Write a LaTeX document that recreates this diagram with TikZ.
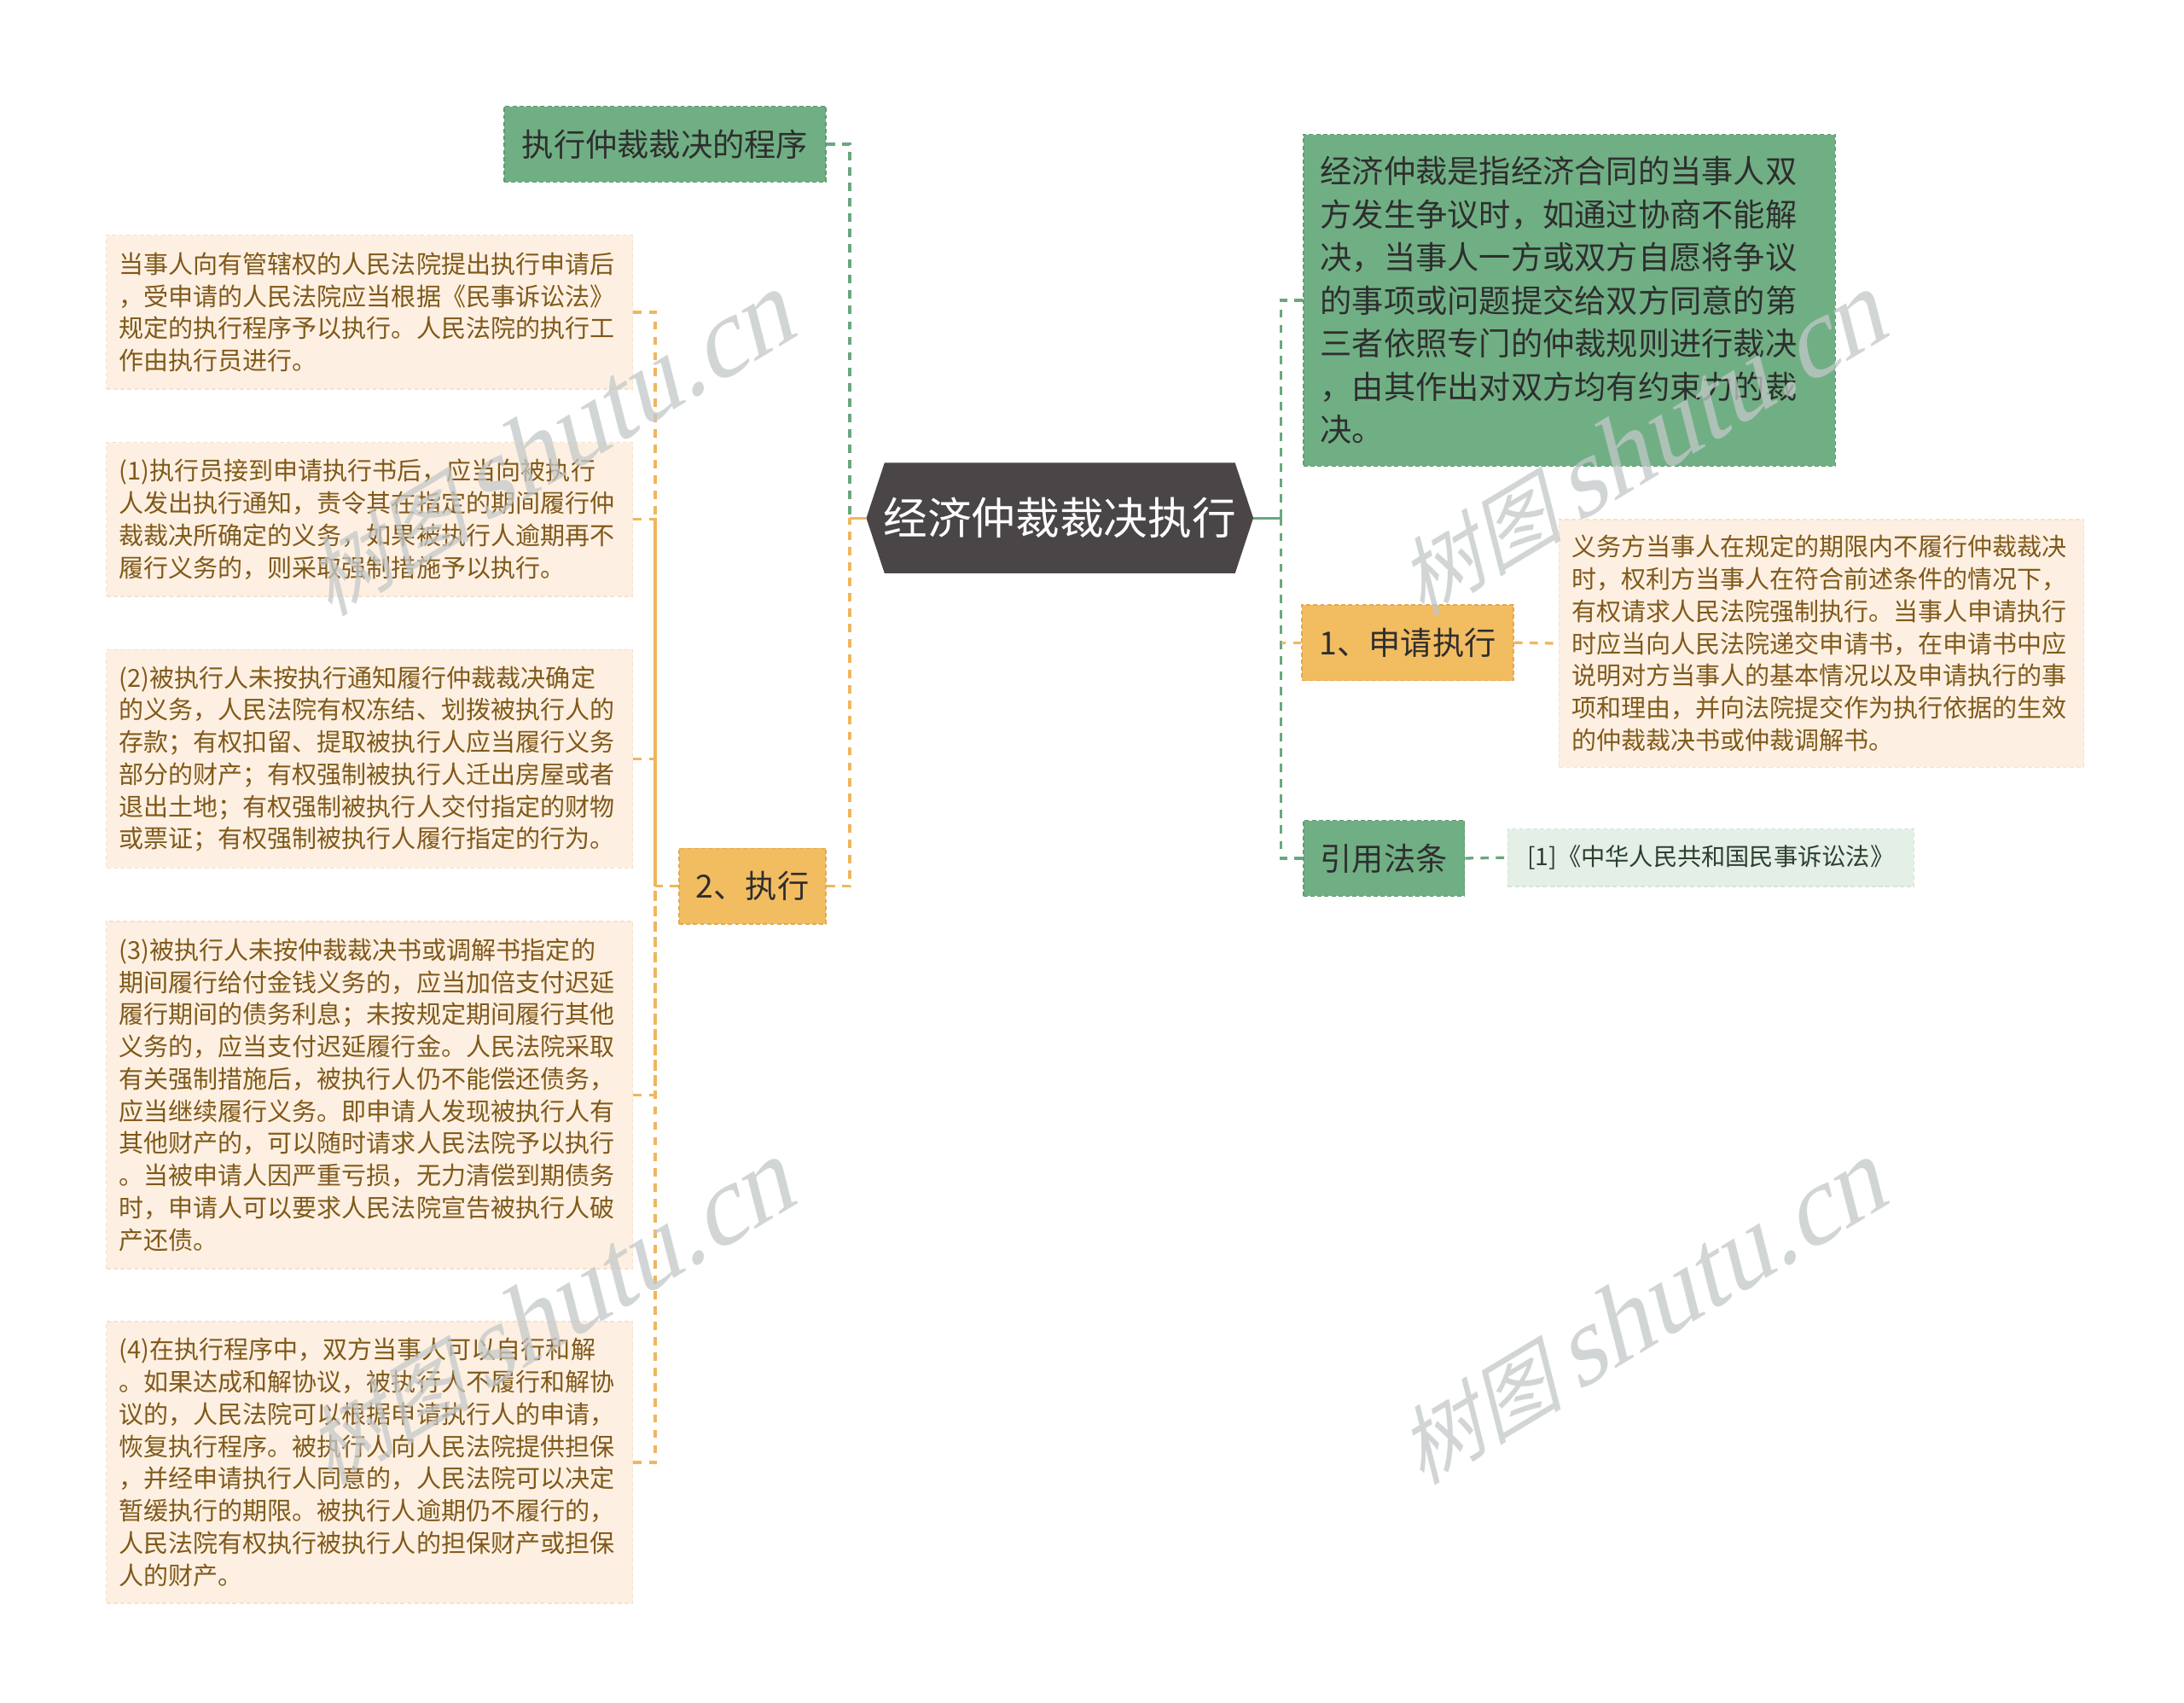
\documentclass[tikz,border=0pt]{standalone}
\usepackage{fontspec}
\setmainfont{Noto Sans CJK SC}
\newfontfamily\wmfont{Liberation Serif}
\usetikzlibrary{calc}
\definecolor{gfill}{HTML}{70AF84}
\definecolor{gborder}{HTML}{5E9B71}
\definecolor{gline}{HTML}{6AA77F}
\definecolor{ofill}{HTML}{F2BC61}
\definecolor{oborder}{HTML}{E2A94F}
\definecolor{oline}{HTML}{EFB65E}
\definecolor{pfill}{HTML}{FDF0E2}
\definecolor{pborder}{HTML}{F6E2C8}
\definecolor{ptext}{HTML}{80591A}
\definecolor{rootfill}{HTML}{4A4546}
\definecolor{rfill}{HTML}{E4EFE6}
\definecolor{rborder}{HTML}{D3E4D7}
\definecolor{reftext}{HTML}{2B3F31}
\definecolor{ntext}{HTML}{2E2E2E}
\definecolor{wmgray}{HTML}{C4C8C9}
\begin{document}
\begin{tikzpicture}[x=1pt,y=-1pt,
  boxbase/.style={inner sep=0pt, line width=0.9pt, dash pattern=on 3pt off 2pt},
  gnode/.style={boxbase, fill=gfill, draw=gborder, text=ntext, font=\fontsize{22.7}{30.8}\selectfont},
  onode/.style={boxbase, fill=ofill, draw=oborder, text=ntext, font=\fontsize{22.7}{27}\selectfont},
  pnode/.style={boxbase, fill=pfill, draw=pborder, text=ptext, font=\fontsize{17.7}{23}\selectfont, align=left, text width=358pt, inner xsep=9pt, minimum width=376pt},
  conng/.style={draw=gline, line width=2pt, dash pattern=on 6pt off 5pt},
  conno/.style={draw=oline, line width=2pt, dash pattern=on 6pt off 5pt},
  wm/.style={text=wmgray, opacity=0.75, rotate=31, xslant=0.3, inner sep=0pt}
]
\fill[white] (0,0) rectangle (1560,1216);
\useasboundingbox (0,0) rectangle (1560,1216);

% root
\node[minimum width=276pt, minimum height=78.5pt, inner sep=0pt] (root) at (757,370) {};
\fill[rootfill] (root.west) -- ($(root.north west)+(13,0)$) -- ($(root.north east)+(-13,0)$) -- (root.east) -- ($(root.south east)+(-13,0)$) -- ($(root.south west)+(13,0)$) -- cycle;
\node[text=white, font=\fontsize{31.5}{31.5}\selectfont, inner sep=0pt] (roottext) at (root.center) {经济仲裁裁决执行};

% left side
\node[gnode, minimum width=230pt, minimum height=54pt] (proc) at (475,103) {执行仲裁裁决的程序};
\node[onode, minimum width=105pt, minimum height=54pt] (exec) at (537.5,633) {2、执行};

\node[pnode, minimum height=110pt] (ta) at (264,223) {当事人向有管辖权的人民法院提出执行申请后\\，受申请的人民法院应当根据《民事诉讼法》\\规定的执行程序予以执行。人民法院的执行工\\作由执行员进行。};
\node[pnode, minimum height=110pt] (tb) at (264,371) {(1)执行员接到申请执行书后，应当向被执行\\人发出执行通知，责令其在指定的期间履行仲\\裁裁决所确定的义务，如果被执行人逾期再不\\履行义务的，则采取强制措施予以执行。};
\node[pnode, minimum height=156pt] (tc) at (264,542) {(2)被执行人未按执行通知履行仲裁裁决确定\\的义务，人民法院有权冻结、划拨被执行人的\\存款；有权扣留、提取被执行人应当履行义务\\部分的财产；有权强制被执行人迁出房屋或者\\退出土地；有权强制被执行人交付指定的财物\\或票证；有权强制被执行人履行指定的行为。};
\node[pnode, minimum height=248pt] (td) at (264,782) {(3)被执行人未按仲裁裁决书或调解书指定的\\期间履行给付金钱义务的，应当加倍支付迟延\\履行期间的债务利息；未按规定期间履行其他\\义务的，应当支付迟延履行金。人民法院采取\\有关强制措施后，被执行人仍不能偿还债务，\\应当继续履行义务。即申请人发现被执行人有\\其他财产的，可以随时请求人民法院予以执行\\。当被申请人因严重亏损，无力清偿到期债务\\时，申请人可以要求人民法院宣告被执行人破\\产还债。};
\node[pnode, minimum height=201pt] (te) at (264,1044.5) {(4)在执行程序中，双方当事人可以自行和解\\。如果达成和解协议，被执行人不履行和解协\\议的，人民法院可以根据申请执行人的申请，\\恢复执行程序。被执行人向人民法院提供担保\\，并经申请执行人同意的，人民法院可以决定\\暂缓执行的期限。被执行人逾期仍不履行的，\\人民法院有权执行被执行人的担保财产或担保\\人的财产。};

% right side
\node[gnode, align=left, text width=356pt, inner xsep=12pt, minimum width=380pt, minimum height=237pt] (def) at (1121,214.5) {经济仲裁是指经济合同的当事人双\\方发生争议时，如通过协商不能解\\决，当事人一方或双方自愿将争议\\的事项或问题提交给双方同意的第\\三者依照专门的仲裁规则进行裁决\\，由其作出对双方均有约束力的裁\\决。};
\node[onode, minimum width=151pt, minimum height=54pt] (apply) at (1005.5,459) {1、申请执行};
\node[pnode, minimum width=375pt, text width=357pt, minimum height=177pt] (applyT) at (1301,459.5) {义务方当事人在规定的期限内不履行仲裁裁决\\时，权利方当事人在符合前述条件的情况下，\\有权请求人民法院强制执行。当事人申请执行\\时应当向人民法院递交申请书，在申请书中应\\说明对方当事人的基本情况以及申请执行的事\\项和理由，并向法院提交作为执行依据的生效\\的仲裁裁决书或仲裁调解书。};
\node[gnode, minimum width=115pt, minimum height=54pt] (ref) at (988.5,613) {引用法条};
\node[boxbase, fill=rfill, draw=rborder, text=reftext, font=\fontsize{17.2}{20}\selectfont, minimum width=290pt, minimum height=41pt] (refT) at (1222,612.5) {[1]《中华人民共和国民事诉讼法》};

% connectors
\coordinate (L) at (607,370);
\coordinate (E) at (468,633);
\coordinate (R) at (915,370);
\draw[draw=oline, line width=2pt] (root.west) -- (L);
\draw[conng] (proc.east) -| (L);
\draw[conno] (exec.east) -| (L);
\draw[conno] (exec.west) -- (E);
\foreach \n in {ta,tb,tc,td,te} \draw[conno] (\n.east) -| (E);
\draw[draw=gline, line width=2pt] (root.east) -- (R);
\draw[conng] (def.west) -| (R);
\draw[conng] (ref.west) -| (R);
\draw[conno] (apply.west) -- (apply.west -| R);
\draw[conno] (apply.east) -- (applyT.west);
\draw[conng] (ref.east) -- (refT.west);

% watermarks
\node[wm] (wm1) at (397,315) {\fontsize{60}{60}\selectfont 树图\hspace{10pt}{\wmfont\fontsize{78}{78}\selectfont shutu.cn}};
\node[wm] (wm2) at (1177,315) {\fontsize{60}{60}\selectfont 树图\hspace{10pt}{\wmfont\fontsize{78}{78}\selectfont shutu.cn}};
\node[wm] (wm3) at (397,935) {\fontsize{60}{60}\selectfont 树图\hspace{10pt}{\wmfont\fontsize{78}{78}\selectfont shutu.cn}};
\node[wm] (wm4) at (1177,935) {\fontsize{60}{60}\selectfont 树图\hspace{10pt}{\wmfont\fontsize{78}{78}\selectfont shutu.cn}};
\end{tikzpicture}
\end{document}
